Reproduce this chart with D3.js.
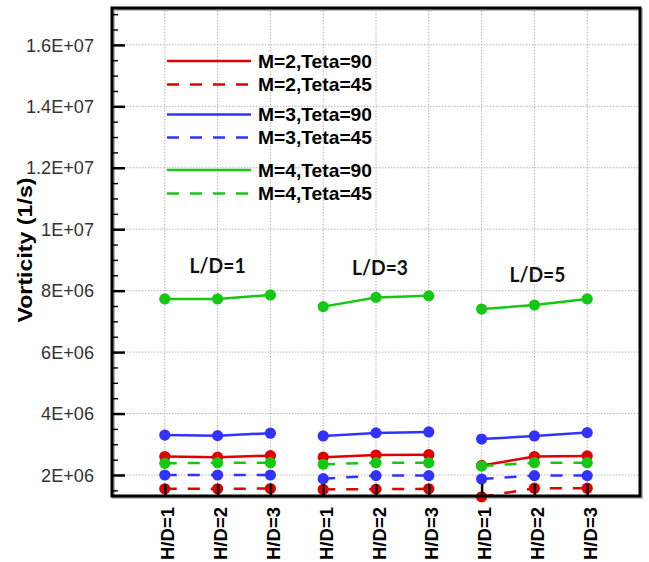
<!DOCTYPE html>
<html>
<head>
<meta charset="utf-8">
<script src="https://cdn.jsdelivr.net/npm/d3@7"></script>
<style>
  html, body { margin: 0; padding: 0; background: #fff; }
  svg { display: block; }
</style>
</head>
<body>
<svg id="chart" width="649" height="562"></svg>
<script>
// Category axis: three L/D groups, each with H/D = 1..3
const categories = ["H/D=1", "H/D=2", "H/D=3", "H/D=1", "H/D=2", "H/D=3", "H/D=1", "H/D=2", "H/D=3"];
const groupLabels = ["L/D=1", "L/D=3", "L/D=5"];
const groupSize = 3;

// Vorticity (1/s) per category for each case
const m2t90 = [2.60e6, 2.58e6, 2.63e6, 2.58e6, 2.65e6, 2.66e6, 2.31e6, 2.60e6, 2.62e6];
const m2t45 = [1.55e6, 1.55e6, 1.56e6, 1.53e6, 1.54e6, 1.55e6, 1.29e6, 1.57e6, 1.57e6];
const m3t90 = [3.30e6, 3.28e6, 3.36e6, 3.27e6, 3.37e6, 3.40e6, 3.17e6, 3.27e6, 3.38e6];
const m3t45 = [2.00e6, 2.00e6, 2.00e6, 1.88e6, 1.98e6, 1.98e6, 1.87e6, 1.98e6, 1.98e6];
const m4t90 = [7.73e6, 7.73e6, 7.86e6, 7.48e6, 7.78e6, 7.83e6, 7.40e6, 7.53e6, 7.73e6];
const m4t45 = [2.38e6, 2.40e6, 2.40e6, 2.35e6, 2.40e6, 2.40e6, 2.29e6, 2.40e6, 2.40e6];

const seriesNames = ["M=2,Teta=90", "M=2,Teta=45", "M=3,Teta=90", "M=3,Teta=45", "M=4,Teta=90", "M=4,Teta=45"];
const seriesValues = [m2t90, m2t45, m3t90, m3t45, m4t90, m4t45];

const yTickValues = [2e6, 4e6, 6e6, 8e6, 1e7, 1.2e7, 1.4e7, 1.6e7];
const yTickLabels = ["2E+06", "4E+06", "6E+06", "8E+06", "1E+07", "1.2E+07", "1.4E+07", "1.6E+07"];

// styling per series
const colors = ["#e00000", "#e00000", "#3232ff", "#3232ff", "#14c814", "#14c814"];
const dashed = [false, true, false, true, false, true];

const svg = d3.select("#chart");
const plot = { left: 112, right: 640, top: 8, bottom: 496 };

const x = d3.scaleLinear().domain([0, categories.length + 1]).range([plot.left, plot.right]);
const y = d3.scaleLinear().domain([1.316e6, 1.72e7]).range([plot.bottom, plot.top]);
const cx = (d, i) => x(i + 1);

// Stretch a text selection horizontally so that its widest-reference string
// reaches the given width; every other string gets the same stretch factor.
function fitWidth(sel, refWidth, refIndex) {
  const nodes = sel.nodes();
  const lens = nodes.map(n => n.getComputedTextLength());
  const k = refWidth / lens[refIndex];
  nodes.forEach((n, i) => {
    n.setAttribute("textLength", (lens[i] * k).toFixed(2));
    n.setAttribute("lengthAdjust", "spacingAndGlyphs");
  });
}

// shadow under the frame
svg.append("rect")
  .attr("x", plot.left + 1.5).attr("y", plot.top + 1.5)
  .attr("width", plot.right - plot.left).attr("height", plot.bottom - plot.top)
  .attr("fill", "none").attr("stroke", "#b8b8b8").attr("stroke-width", 3);

// grid
const grid = svg.append("g").attr("stroke", "#b4b4b4").attr("stroke-width", 1)
  .attr("stroke-dasharray", "1.5,1.5");
grid.selectAll("line.h").data(yTickValues).join("line")
  .attr("x1", plot.left).attr("x2", plot.right)
  .attr("y1", d => y(d)).attr("y2", d => y(d));
grid.selectAll("line.v").data(categories).join("line")
  .attr("x1", cx).attr("x2", cx)
  .attr("y1", plot.top).attr("y2", plot.bottom);

// series: one polyline per L/D group, plus markers
const line = d3.line().x(d => x(d.i + 1)).y(d => y(d.v));
seriesValues.forEach((vals, s) => {
  const g = svg.append("g");
  const pts = vals.map((v, i) => ({ v, i }));
  const groups = d3.groups(pts, d => Math.floor(d.i / groupSize)).map(e => e[1]);
  g.selectAll("path").data(groups).join("path")
    .attr("d", line)
    .attr("fill", "none")
    .attr("stroke", colors[s])
    .attr("stroke-width", 2.5)
    .attr("stroke-dasharray", dashed[s] ? "12,11" : null);
  g.selectAll("circle").data(pts).join("circle")
    .attr("cx", d => x(d.i + 1)).attr("cy", d => y(d.v)).attr("r", 5.6)
    .attr("fill", colors[s]);
});

// y axis ticks (inward, with minors)
const yAxis = d3.axisRight(y).tickValues(yTickValues).tickSize(13).tickFormat("");
svg.append("g").attr("transform", `translate(${plot.left},0)`).call(yAxis)
  .call(g => g.select(".domain").remove())
  .selectAll("line").attr("stroke", "#000").attr("stroke-width", 2.5);
const minorTicks = d3.range(1.5e6, 1.72e7, 5e5).filter(v => Math.abs(v / 2e6 - Math.round(v / 2e6)) > 1e-6);
const yMinor = d3.axisRight(y).tickValues(minorTicks).tickSize(6).tickFormat("");
svg.append("g").attr("transform", `translate(${plot.left},0)`).call(yMinor)
  .call(g => g.select(".domain").remove())
  .selectAll("line").attr("stroke", "#000").attr("stroke-width", 1.4);

const yLabels = svg.append("g").selectAll("text").data(yTickValues).join("text")
  .attr("x", 94).attr("y", d => y(d)).attr("dy", "0.36em")
  .attr("text-anchor", "end")
  .attr("font-family", "Liberation Sans, Arial, sans-serif")
  .attr("font-size", 18.5).attr("fill", "#333")
  .text((d, i) => yTickLabels[i]);
fitWidth(yLabels, 68, yTickLabels.indexOf("1.6E+07"));

// x axis ticks (inward) on top of markers
const xAxis = d3.axisTop(x).tickValues(d3.range(1, categories.length + 1)).tickSize(12).tickFormat("");
svg.append("g").attr("transform", `translate(0,${plot.bottom})`).call(xAxis)
  .call(g => g.select(".domain").remove())
  .selectAll("line").attr("stroke", "#000").attr("stroke-width", 2.5);

const xLabels = svg.append("g").selectAll("text").data(categories).join("text")
  .attr("transform", (d, i) => `translate(${x(i + 1) + 9.5},507) rotate(-90)`)
  .attr("text-anchor", "end")
  .attr("font-family", "Liberation Sans, Arial, sans-serif")
  .attr("font-weight", "bold").attr("font-size", 18).attr("fill", "#000")
  .text(d => d);
fitWidth(xLabels, 53, 0);

// frame
svg.append("rect")
  .attr("x", plot.left).attr("y", plot.top)
  .attr("width", plot.right - plot.left).attr("height", plot.bottom - plot.top)
  .attr("fill", "none").attr("stroke", "#000").attr("stroke-width", 3);

// y axis title
const yTitle = svg.append("text")
  .attr("transform", "translate(32,250) rotate(-90)")
  .attr("text-anchor", "middle")
  .attr("font-family", "Liberation Sans, Arial, sans-serif")
  .attr("font-weight", "bold").attr("font-size", 21).attr("fill", "#000")
  .text("Vorticity (1/s)");
fitWidth(yTitle, 145, 0);

// group labels, placed in data coordinates above each group
const groupAnchors = [{ c: 2, dx: 0, v: 8.58e6 }, { c: 5, dx: 4, v: 8.51e6 }, { c: 8, dx: 3, v: 8.29e6 }];
const gLabels = svg.append("g").selectAll("text").data(groupLabels).join("text")
  .attr("x", (d, i) => x(groupAnchors[i].c) + groupAnchors[i].dx)
  .attr("y", (d, i) => y(groupAnchors[i].v))
  .attr("text-anchor", "middle")
  .attr("font-family", "Lato, Open Sans, sans-serif")
  .attr("font-weight", "bold").attr("font-size", 20).attr("fill", "#111")
  .text(d => d);
fitWidth(gLabels, 56, 0);

// legend
const legendRows = [61, 84.5, 114.5, 137.5, 170, 193.5];
const legend = svg.append("g");
seriesNames.forEach((name, s) => {
  const ly = legendRows[s];
  legend.append("line")
    .attr("x1", 167).attr("x2", dashed[s] ? 250 : 251)
    .attr("y1", ly).attr("y2", ly)
    .attr("stroke", colors[s]).attr("stroke-width", 2.5)
    .attr("stroke-dasharray", dashed[s] ? "12,11" : null);
});
const legendText = legend.selectAll("text").data(seriesNames).join("text")
  .attr("x", 258).attr("y", (d, s) => legendRows[s]).attr("dy", "0.36em")
  .attr("font-family", "Liberation Sans, Arial, sans-serif")
  .attr("font-weight", "bold").attr("font-size", 18.5).attr("fill", "#000")
  .text(d => d);
fitWidth(legendText, 114, 0);
</script>
</body>
</html>
